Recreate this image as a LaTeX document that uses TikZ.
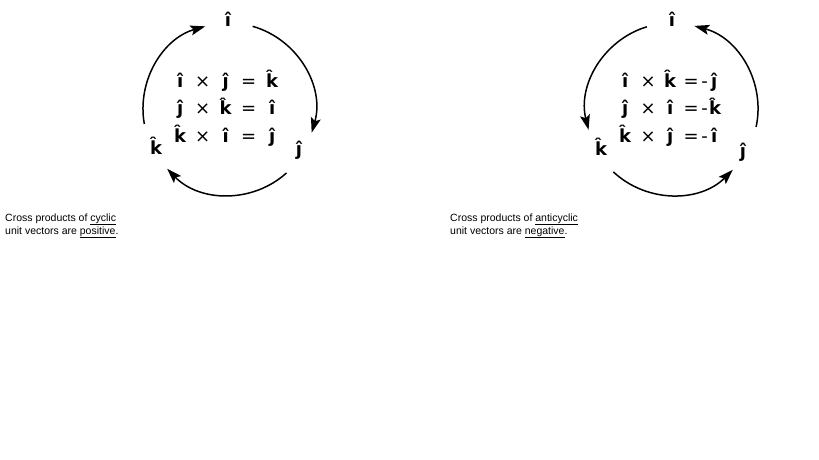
\documentclass[tikz,border=0pt]{standalone}
\usepackage{fontspec}
\setmainfont{Liberation Sans}
\newfontfamily\uvfont{DejaVu Sans}
\usetikzlibrary{arrows.meta}
\newcommand\uvI{{\uvfont\bfseries ^^^^0131^^^^0302}}
\newcommand\uvJ{{\uvfont\bfseries ^^^^0237^^^^0302}}
\newcommand\uvK{{\uvfont\bfseries k^^^^0302}}
\newcommand\opx{{\uvfont ^^^^00d7}}
\newcommand\opeq{{\uvfont =}}
\newcommand\opm{{\uvfont -}}
\tikzset{
  lab/.style={anchor=base, inner sep=0pt, font=\fontsize{18}{21}\selectfont},
  eqrow/.style={anchor=base west, inner sep=0pt, font=\fontsize{18}{21}\selectfont},
  captxt/.style={anchor=base west, inner sep=0pt, font=\fontsize{10.5}{13}\selectfont},
  cyc/.style={line width=1.5pt, -{Stealth[length=15pt,width=10pt,inset=3pt]}}
}
\begin{document}
\begin{tikzpicture}[x=1pt,y=-1pt]
\path[use as bounding box, fill=white] (0,0) rectangle (819,460);
% ---------- left: cyclic ----------
\coordinate (cl) at (229,109);
\node[lab] (li) at (228,27) {\uvI};
\node[lab] (lj) at (299,155) {\uvJ};
\node[lab] (lk) at (156,154) {\uvK};
\draw[cyc] ([shift={(190:86pt)}]cl) arc[start angle=190, end angle=106, radius=86pt];
\draw[cyc] ([shift={(74:86pt)}]cl) arc[start angle=74, end angle=-16, radius=86pt];
\draw[cyc] ([shift={(-48:86pt)}]cl) arc[start angle=-48, end angle=-136, radius=86pt];
\node[eqrow] (le1) at (169,87) {\makebox[22pt]{\uvI}\makebox[23pt]{\opx}\makebox[23pt]{\uvJ}\makebox[23pt]{\opeq}\makebox[24pt]{\uvK}};
\node[eqrow] (le2) at (169,114.5) {\makebox[22pt]{\uvJ}\makebox[23pt]{\opx}\makebox[23pt]{\uvK}\makebox[23pt]{\opeq}\makebox[24pt]{\uvI}};
\node[eqrow] (le3) at (169,142) {\makebox[22pt]{\uvK}\makebox[23pt]{\opx}\makebox[23pt]{\uvI}\makebox[23pt]{\opeq}\makebox[24pt]{\uvJ}};
\node[captxt] (lc1) at (5,221) {Cross products of \underline{cyclic}};
\node[captxt] (lc2) at (5,234) {unit vectors are \underline{positive}.};
% ---------- right: anticyclic ----------
\coordinate (cr) at (672,109);
\node[lab] (ri) at (672,27) {\uvI};
\node[lab] (rj) at (743,157) {\uvJ};
\node[lab] (rk) at (601,155) {\uvK};
\draw[cyc] ([shift={(107:86pt)}]cr) arc[start angle=107, end angle=194, radius=86pt];
\draw[cyc] ([shift={(-12:86pt)}]cr) arc[start angle=-12, end angle=75, radius=86pt];
\draw[cyc] ([shift={(227:86pt)}]cr) arc[start angle=227, end angle=315, radius=86pt];
\node[eqrow] (re1) at (614,87) {\makebox[22pt]{\uvI}\makebox[24pt]{\opx}\makebox[20pt]{\uvK}\makebox[22pt]{\opeq}\makebox[5pt]{\opm}\makebox[14pt]{\uvJ}};
\node[eqrow] (re2) at (614,114.5) {\makebox[22pt]{\uvJ}\makebox[24pt]{\opx}\makebox[20pt]{\uvI}\makebox[22pt]{\opeq}\makebox[5pt]{\opm}\makebox[16pt]{\uvK}};
\node[eqrow] (re3) at (614,142) {\makebox[22pt]{\uvK}\makebox[24pt]{\opx}\makebox[20pt]{\uvJ}\makebox[22pt]{\opeq}\makebox[5pt]{\opm}\makebox[14pt]{\uvI}};
\node[captxt] (rc1) at (450,221) {Cross products of \underline{anticyclic}};
\node[captxt] (rc2) at (450,234) {unit vectors are \underline{negative}.};
\end{tikzpicture}
\end{document}
